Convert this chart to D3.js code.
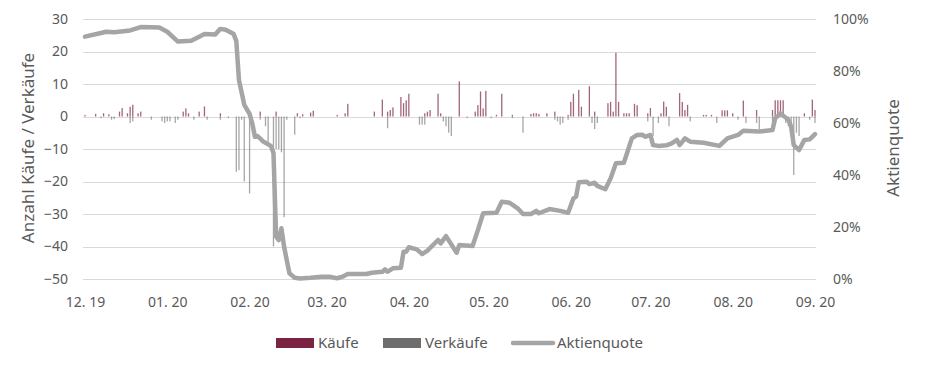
<!DOCTYPE html>
<html>
<head>
<meta charset="utf-8">
<script src="https://cdn.jsdelivr.net/npm/d3@7"></script>
<style>
  html, body { margin: 0; padding: 0; background: #fff; }
  svg { display: block; }
  text { font-family: "Noto Sans", "Open Sans", sans-serif; fill: #595959; }
</style>
</head>
<body>
<svg id="chart" width="940" height="379"></svg>
<script>
// ---- Data ----
const leftTicks = [-50, -40, -30, -20, -10, 0, 10, 20, 30];
const rightTicks = [0, 0.2, 0.4, 0.6, 0.8, 1.0];
const monthTicks = ["2019-12-01","2020-01-01","2020-02-01","2020-03-01","2020-04-01","2020-05-01","2020-06-01","2020-07-01","2020-08-01","2020-09-01"];

const buyDates = ["2019-12-01","2019-12-05","2019-12-08","2019-12-10","2019-12-14","2019-12-15","2019-12-17","2019-12-18","2019-12-19","2019-12-21","2019-12-22",
  "2020-01-07","2020-01-08","2020-01-09","2020-01-13","2020-01-15","2020-01-21","2020-02-05","2020-02-11","2020-02-19","2020-02-21","2020-02-24","2020-02-25",
  "2020-03-05","2020-03-08","2020-03-09","2020-03-19","2020-03-22","2020-03-24","2020-03-25","2020-03-26","2020-03-29","2020-03-30","2020-03-31",
  "2020-04-01","2020-04-07","2020-04-08","2020-04-09","2020-04-12","2020-04-13","2020-04-20","2020-04-26","2020-04-27","2020-04-28","2020-04-29","2020-04-30",
  "2020-05-04","2020-05-06","2020-05-10","2020-05-17","2020-05-18","2020-05-19","2020-05-20","2020-05-23","2020-05-26","2020-05-31",
  "2020-06-01","2020-06-02","2020-06-04","2020-06-05","2020-06-08","2020-06-10","2020-06-15","2020-06-16","2020-06-17","2020-06-18","2020-06-19",
  "2020-06-21","2020-06-22","2020-06-23","2020-06-25","2020-06-26","2020-06-30",
  "2020-07-01","2020-07-05","2020-07-06","2020-07-07","2020-07-12","2020-07-13","2020-07-14","2020-07-15","2020-07-21","2020-07-22","2020-07-24",
  "2020-07-28","2020-07-29","2020-07-30","2020-08-01","2020-08-05","2020-08-10","2020-08-16","2020-08-17","2020-08-18","2020-08-19","2020-08-20",
  "2020-08-28","2020-08-31","2020-09-01"];
const buys = [0.5,0.8,1,0.7,1.5,2.6,1,3,3.6,1,1.5,
  1.5,2.5,1,1.5,3.1,1,1.5,1.5,1,0.7,1.2,1.8,
  0.5,1,3.9,1.5,5.2,1.5,2,2.8,6,4.1,5,
  7,1,1.5,2,7,1,10.8,1.5,3.5,7.7,2.5,7.9,
  0.5,7,0.5,0.8,1,1,0.8,1,1.5,0.5,
  4.5,7,8.2,3,9.3,1.5,4.1,4.5,1.5,19.6,4.5,
  1,1,1,3.9,3.5,1,
  2.6,1,4.6,3,7.2,4.5,2,3.6,0.5,0.5,0.5,
  1.9,1.9,1.9,1,4.9,2,2,5,5,5,5,
  1,5.2,2];

const sellDates = ["2019-12-07","2019-12-11","2019-12-12","2019-12-18","2019-12-19","2019-12-26","2019-12-30","2019-12-31","2020-01-01","2020-01-02","2020-01-04","2020-01-05",
  "2020-01-11","2020-01-16","2020-01-21","2020-01-24","2020-01-27","2020-01-28","2020-01-29","2020-01-30","2020-02-01","2020-02-05","2020-02-07",
  "2020-02-08","2020-02-10","2020-02-11","2020-02-12","2020-02-13","2020-02-14","2020-02-15","2020-02-18","2020-02-20",
  "2020-03-24","2020-04-05","2020-04-06","2020-04-07","2020-04-14","2020-04-15","2020-04-16","2020-04-17","2020-04-23",
  "2020-05-02","2020-05-10","2020-05-14","2020-05-26","2020-05-27","2020-05-28","2020-05-29","2020-05-31",
  "2020-06-09","2020-06-10","2020-06-11","2020-06-30","2020-07-02","2020-07-04","2020-07-08","2020-07-16","2020-07-26",
  "2020-08-03","2020-08-06","2020-08-10","2020-08-11","2020-08-16","2020-08-21","2020-08-22","2020-08-23","2020-08-24","2020-08-25","2020-08-26","2020-08-30","2020-09-01"];
const sells = [-0.5,-1,-0.8,-2,-1.5,-1,-1.5,-2,-1.5,-1.5,-2,-1,
  -1,-1,-1,-0.5,-17,-16.5,-1,-20,-23.7,-1,-3,
  -9,-40,-10,-10,-11,-31,-1,-5.6,-0.5,
  -3.6,-2.5,-2.5,-2.5,-1.5,-3,-5,-6,-0.5,
  -0.5,-0.5,-5,-1,-1.5,-2.5,-2,-1,
  -2,-3.9,-2,-1.5,-6,-2,-3,-1.5,-2,
  -1,-2,-2,-3.9,-3,-2,-3,-5,-18,-5,-6,-1,-2];

const quoteDates = ["2019-12-01","2019-12-07","2019-12-09","2019-12-12","2019-12-18","2019-12-22","2019-12-29","2020-01-01","2020-01-05","2020-01-10",
  "2020-01-13","2020-01-15","2020-01-19","2020-01-21","2020-01-23","2020-01-26","2020-01-27","2020-01-28","2020-01-30","2020-02-01",
  "2020-02-02","2020-02-03","2020-02-04","2020-02-06","2020-02-09","2020-02-10","2020-02-11","2020-02-12","2020-02-13","2020-02-14",
  "2020-02-16","2020-02-18","2020-02-20","2020-02-24","2020-02-28","2020-03-02","2020-03-05","2020-03-07","2020-03-09","2020-03-16",
  "2020-03-18","2020-03-22","2020-03-23","2020-03-24","2020-03-26","2020-03-29","2020-03-30","2020-03-31","2020-04-01","2020-04-04",
  "2020-04-06","2020-04-08","2020-04-12","2020-04-13","2020-04-15","2020-04-19","2020-04-20","2020-04-25","2020-04-27","2020-04-29",
  "2020-05-04","2020-05-06","2020-05-09","2020-05-12","2020-05-14","2020-05-17","2020-05-19","2020-05-20","2020-05-24","2020-05-28",
  "2020-05-31","2020-06-02","2020-06-03","2020-06-04","2020-06-07","2020-06-08","2020-06-10","2020-06-11","2020-06-14","2020-06-16",
  "2020-06-18","2020-06-21","2020-06-24","2020-06-26","2020-06-28","2020-06-29","2020-07-01","2020-07-02","2020-07-04","2020-07-07",
  "2020-07-09","2020-07-11","2020-07-12","2020-07-14","2020-07-16","2020-07-21","2020-07-27","2020-07-30","2020-08-03","2020-08-05",
  "2020-08-11","2020-08-16","2020-08-17","2020-08-19","2020-08-22","2020-08-23","2020-08-24","2020-08-26","2020-08-28","2020-08-30","2020-09-01"];
const quotes = [93.2,94.6,95.1,94.9,95.6,96.9,96.7,95.1,91.3,91.6,
  93.2,94.2,94.0,96.2,95.9,94.2,91.5,76.5,67.0,63.5,
  59.9,54.7,55.0,53.0,51.2,48.5,16.3,15.0,19.5,12.4,
  2.2,0.5,0.2,0.5,0.9,0.9,0.3,0.9,1.9,1.9,
  2.4,2.8,3.7,2.8,4.1,4.3,10.5,10.5,12.2,11.4,
  9.6,10.9,15.0,13.7,16.5,10.1,13.1,12.7,18.8,25.3,
  25.5,29.7,29.3,27.2,25.0,25.0,26.2,25.3,26.9,26.2,
  25.5,31.0,31.7,37.2,37.4,36.5,37.0,35.8,34.5,38.7,
  44.5,44.7,54.1,55.4,55.5,54.7,55.4,51.5,51.2,51.4,
  52.2,53.5,51.5,54.1,52.8,52.4,51.2,54.1,55.4,57.0,
  56.7,57.3,61.8,63.7,61.2,58.6,51.5,49.6,53.5,53.7,55.7];

const legendItems = ["Käufe", "Verkäufe", "Aktienquote"];

// ---- Chart ----
const parse = d3.timeParse("%Y-%m-%d");
const svg = d3.select("#chart");
const colBuy = "#7b2343", colSell = "#6d6d6d", colLine = "#a5a5a5", colGrid = "#d9d9d9";

const x = d3.scaleTime().domain([parse(monthTicks[0]), parse(monthTicks[monthTicks.length - 1])]).range([85, 815]);
const yL = d3.scaleLinear().domain([-50, 30]).range([279, 19]);
const yR = d3.scaleLinear().domain([0, 1]).range([279, 19]);

// gridlines
svg.append("g").selectAll("line").data(leftTicks).join("line")
  .attr("x1", 83).attr("x2", 816)
  .attr("y1", d => Math.round(yL(d)) + 0.5).attr("y2", d => Math.round(yL(d)) + 0.5)
  .attr("stroke", colGrid).attr("stroke-width", 1);

// left axis
const gl = svg.append("g").attr("transform", "translate(72,0)")
  .call(d3.axisLeft(yL).tickValues(leftTicks).tickSize(0).tickPadding(4).tickFormat(d3.format("d")));
gl.select(".domain").remove();
gl.selectAll("text").style("font-size", "14px").attr("fill", "#595959").style("font-family", "'Noto Sans', sans-serif");

// right axis
const gr = svg.append("g").attr("transform", "translate(829,0)")
  .call(d3.axisRight(yR).tickValues(rightTicks).tickSize(0).tickPadding(4).tickFormat(d3.format(".0%")));
gr.select(".domain").remove();
gr.selectAll("text").style("font-size", "14px").attr("fill", "#595959").style("font-family", "'Noto Sans', sans-serif");

// x axis
const gx = svg.append("g").attr("transform", "translate(0,293)")
  .call(d3.axisBottom(x).tickValues(monthTicks.map(parse)).tickSize(0).tickPadding(4).tickFormat(d3.timeFormat("%m. %y")));
gx.select(".domain").remove();
gx.selectAll("text").style("font-size", "14px").attr("fill", "#595959").style("font-family", "'Noto Sans', sans-serif");

// bars
const bw = 1.3;
svg.append("g").selectAll("rect").data(buyDates.map((d, i) => [parse(d), buys[i]])).join("rect")
  .attr("x", d => x(d[0]) - bw / 2).attr("width", bw)
  .attr("y", d => yL(d[1])).attr("height", d => yL(0) - yL(d[1]))
  .attr("fill", colBuy).attr("fill-opacity", 0.7);
svg.append("g").selectAll("rect").data(sellDates.map((d, i) => [parse(d), sells[i]])).join("rect")
  .attr("x", d => x(d[0]) - bw / 2).attr("width", bw)
  .attr("y", d => yL(0)).attr("height", d => yL(d[1]) - yL(0))
  .attr("fill", colSell).attr("fill-opacity", 0.6);

// line
const lineData = quoteDates.map((d, i) => [parse(d), quotes[i] / 100]);
svg.append("path").datum(lineData)
  .attr("d", d3.line().x(d => x(d[0])).y(d => yR(d[1])))
  .attr("fill", "none").attr("stroke", colLine).attr("stroke-width", 4.5)
  .attr("stroke-linejoin", "round").attr("stroke-linecap", "round");

// axis titles
svg.append("text").attr("transform", "translate(34,148) rotate(-90)")
  .attr("text-anchor", "middle").style("font-size", "17px").text("Anzahl Käufe / Verkäufe");
svg.append("text").attr("transform", "translate(899,148) rotate(-90)")
  .attr("text-anchor", "middle").style("font-size", "17px").text("Aktienquote");

// legend
const lg = svg.append("g");
const lx = [276, 383, 513];
lg.append("rect").attr("x", lx[0]).attr("y", 338).attr("width", 38).attr("height", 10).attr("fill", colBuy);
lg.append("rect").attr("x", lx[1]).attr("y", 338).attr("width", 38).attr("height", 10).attr("fill", colSell);
lg.append("line").attr("x1", lx[2]).attr("x2", lx[2] + 40).attr("y1", 343).attr("y2", 343)
  .attr("stroke", colLine).attr("stroke-width", 4.5).attr("stroke-linecap", "round");
lg.selectAll("text").data(legendItems).join("text")
  .attr("x", (d, i) => lx[i] + (i === 2 ? 44 : 42)).attr("y", 348)
  .style("font-size", "15px").text(d => d);
</script>
</body>
</html>
